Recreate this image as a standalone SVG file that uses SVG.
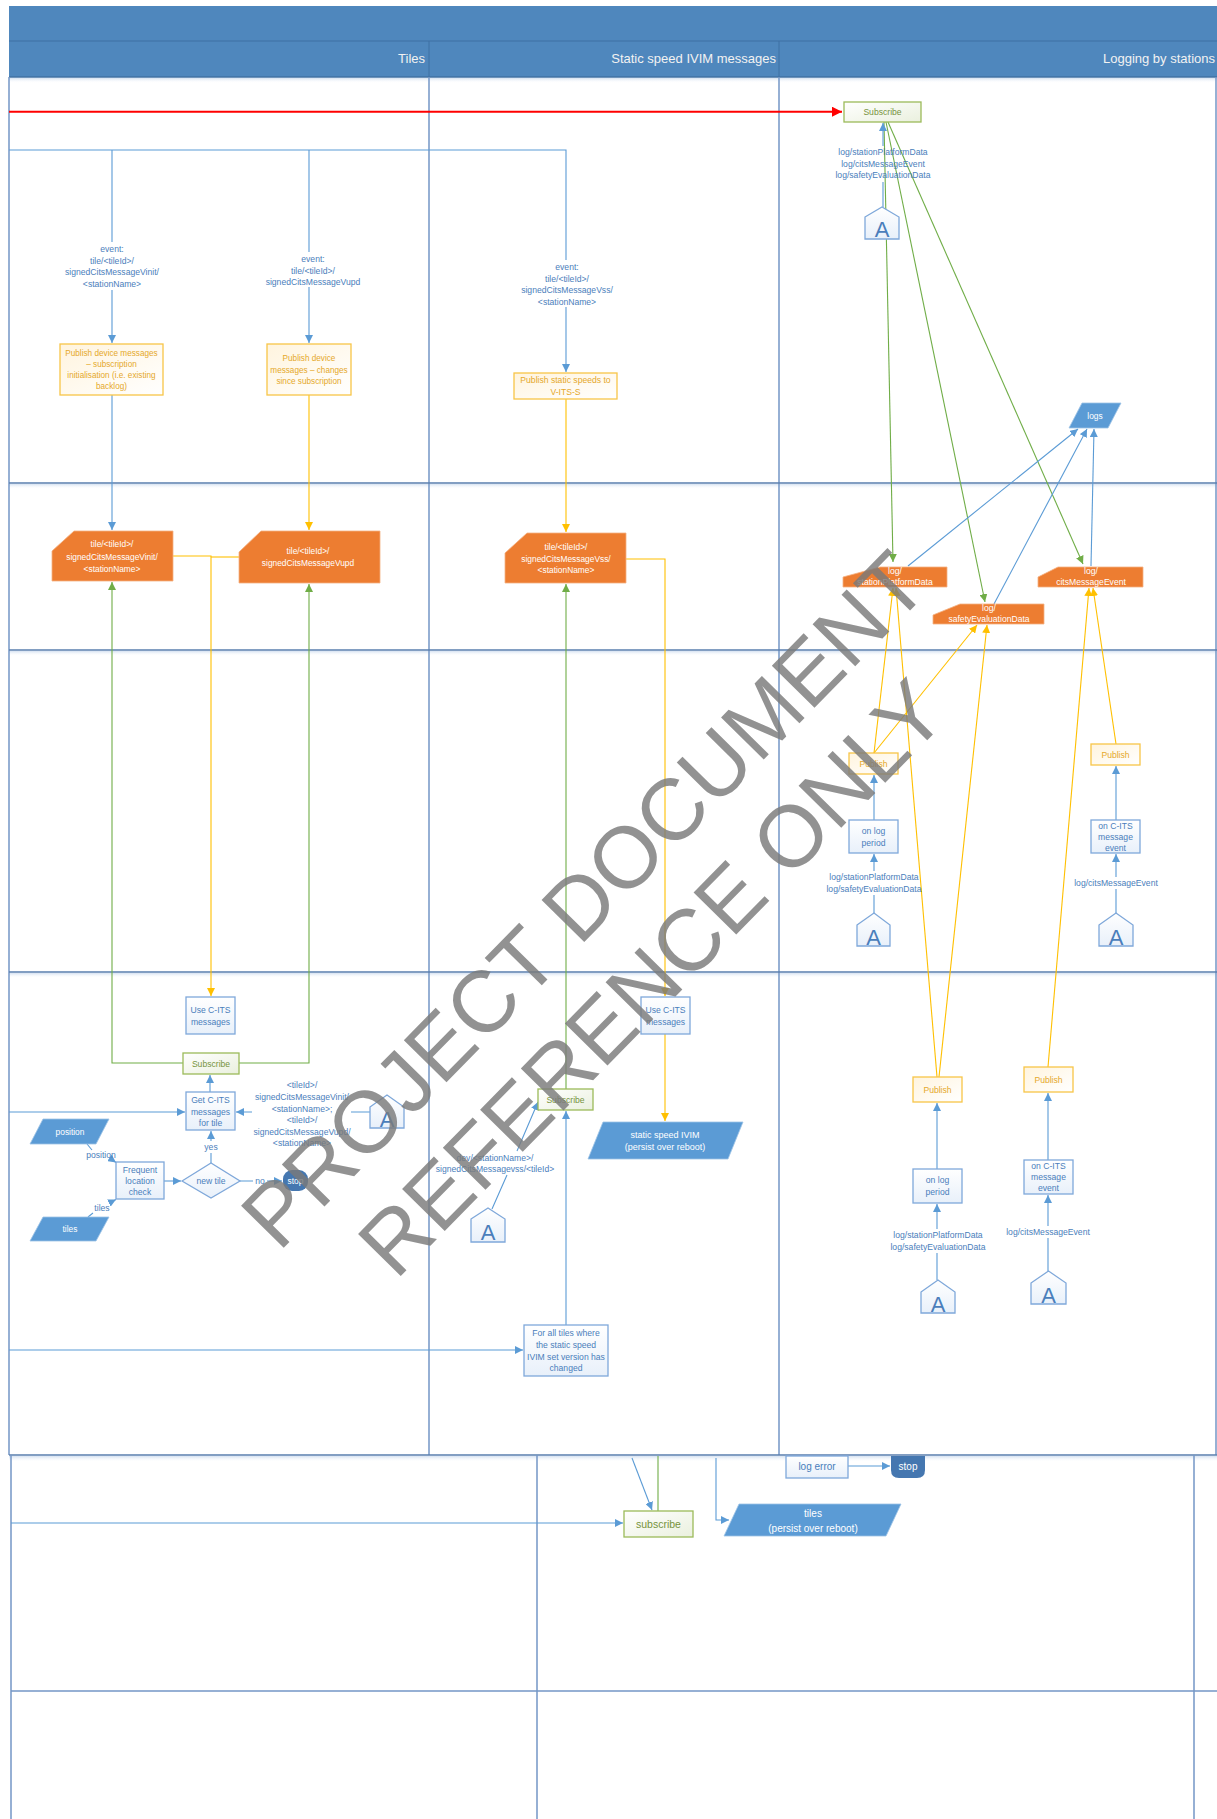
<svg xmlns="http://www.w3.org/2000/svg" width="1217" height="1819" viewBox="0 0 1217 1819">
<defs>
<style>
text{font-family:'Liberation Sans',Arial,sans-serif}
.hdr{fill:#F2F2F2;font-size:13px;text-anchor:end}
.lane{stroke:#7497C6;stroke-width:1.5;fill:none}
.row{stroke:#5A7FAF;stroke-width:1.6;fill:none}
.cb{stroke:#5B9BD5;stroke-width:1.1;fill:none}
.cy{stroke:#FFC000;stroke-width:1.1;fill:none}
.cg{stroke:#70AD47;stroke-width:1.1;fill:none}
.cr{stroke:#FF0000;stroke-width:2;fill:none}
.lbl{fill:#4A7EBB;font-size:8.6px;text-anchor:middle}
.bbox{fill:url(#gb);stroke:#7FA8DA;stroke-width:1.3}
.ybox{fill:url(#gy);stroke:#F7C548;stroke-width:1.3}
.gbox{fill:url(#gg);stroke:#9BBB59;stroke-width:1.3}
.bt{fill:#4A7EBB;font-size:8.6px;text-anchor:middle}
.yt{fill:#E5A82A;font-size:8.6px;text-anchor:middle}
.gt{fill:#76933C;font-size:8.6px;text-anchor:middle}
.org{fill:#ED7D31;stroke:#F4B183;stroke-width:0.8}
.wt{fill:#FFFFFF;font-size:8.4px;text-anchor:middle}
.data{fill:#5B9BD5;stroke:#9DC3E6;stroke-width:0.8}
.stop{fill:#4577B0}
.at{fill:#4A7EBB;font-size:22px;text-anchor:middle}
.wm{fill:#7A7A7A;fill-opacity:0.82;font-size:87px;text-anchor:middle}
</style>
<linearGradient id="gb" x1="0" y1="0" x2="0" y2="1"><stop offset="0" stop-color="#FFFFFF"/><stop offset="1" stop-color="#E8F0FA"/></linearGradient>
<linearGradient id="gy" x1="0" y1="0" x2="1" y2="1"><stop offset="0" stop-color="#FFF4DE"/><stop offset="1" stop-color="#FFFFFF"/></linearGradient>
<linearGradient id="gg" x1="0" y1="0" x2="1" y2="1"><stop offset="0" stop-color="#FFFFFF"/><stop offset="1" stop-color="#EAF0DE"/></linearGradient>
<linearGradient id="sh" x1="0" y1="0" x2="0" y2="1"><stop offset="0" stop-color="#D6E2F1"/><stop offset="1" stop-color="#FFFFFF" stop-opacity="0"/></linearGradient>
<marker id="mb" viewBox="0 0 10 10" refX="10" refY="5" markerWidth="8" markerHeight="8" markerUnits="userSpaceOnUse" orient="auto"><path d="M0,0 L10,5 L0,10 z" fill="#5B9BD5"/></marker>
<marker id="my" viewBox="0 0 10 10" refX="10" refY="5" markerWidth="8" markerHeight="8" markerUnits="userSpaceOnUse" orient="auto"><path d="M0,0 L10,5 L0,10 z" fill="#FFC000"/></marker>
<marker id="mg" viewBox="0 0 10 10" refX="10" refY="5" markerWidth="8" markerHeight="8" markerUnits="userSpaceOnUse" orient="auto"><path d="M0,0 L10,5 L0,10 z" fill="#70AD47"/></marker>
<marker id="mr" viewBox="0 0 10 10" refX="10" refY="5" markerWidth="10" markerHeight="10" markerUnits="userSpaceOnUse" orient="auto"><path d="M0,0 L10,5 L0,10 z" fill="#FF0000"/></marker>
</defs>
<rect x="0" y="0" width="1217" height="1819" fill="#FFFFFF"/>

<g id="swimlanes">
<rect x="9" y="6" width="1208" height="71" fill="#4F87BD"/>
<line x1="9" y1="41" x2="1217" y2="41" stroke="#3F71A3" stroke-width="1.2"/>
<line x1="9" y1="77" x2="1217" y2="77" stroke="#3F71A3" stroke-width="1.5"/>
<line x1="429" y1="41" x2="429" y2="77" stroke="#3F71A3" stroke-width="1"/>
<line x1="779" y1="41" x2="779" y2="77" stroke="#3F71A3" stroke-width="1"/>
<text class="hdr" x="425" y="63">Tiles</text>
<text class="hdr" x="776" y="63">Static speed IVIM messages</text>
<text class="hdr" x="1215" y="63">Logging by stations</text>
<rect x="9" y="78" width="1208" height="5" fill="url(#sh)"/>
<rect x="9" y="484" width="1208" height="5" fill="url(#sh)"/>
<rect x="9" y="651" width="1208" height="5" fill="url(#sh)"/>
<rect x="9" y="973" width="1208" height="5" fill="url(#sh)"/>
<rect x="9" y="1456" width="1208" height="6" fill="url(#sh)"/>
<path class="lane" d="M9,77 V1455 M429,77 V1455 M779,77 V1455 M1216,77 V1455"/>
<path class="row" d="M9,483 H1217 M9,650 H1217 M9,972 H1217 M9,1455 H1217"/>
<path class="lane" d="M11,1455 V1819 M537,1455 V1819 M1194,1455 V1819 M11,1691 H1217" stroke-width="1.2"/>
</g>

<g id="connectors">
<path class="cr" d="M9,111.7 H842" marker-end="url(#mr)"/>
<path class="cb" d="M9,150 H566 V260 M566,307 V372" marker-end="url(#mb)"/>
<path class="cb" d="M112,150 V242 M112,290 V343" marker-end="url(#mb)"/>
<path class="cb" d="M309,150 V252 M309,287 V343" marker-end="url(#mb)"/>
<path class="cb" d="M112,395 V530" marker-end="url(#mb)"/>
<path class="cy" d="M309,395 V530" marker-end="url(#my)"/>
<path class="cy" d="M566,399 V532" marker-end="url(#my)"/>
<path class="cy" d="M173,556 H211 V996" marker-end="url(#my)"/>
<path class="cy" d="M239,557 H211"/>
<path class="cy" d="M626,559 H665 V996" marker-end="url(#my)"/>
<path class="cg" d="M183,1063 H112 V582" marker-end="url(#mg)"/>
<path class="cg" d="M239,1063 H309 V584" marker-end="url(#mg)"/>
<path class="cg" d="M566,1089 V584" marker-end="url(#mg)"/>
<path class="cb" d="M210,1092 V1075" marker-end="url(#mb)"/>
<path class="cb" d="M9,1112 H185" marker-end="url(#mb)"/>
<path class="cb" d="M370,1112 H351 M252,1112 H236" marker-end="url(#mb)"/>
<path class="cb" d="M211,1163 V1153 M211,1141 V1131" marker-end="url(#mb)"/>
<path class="cb" d="M240,1181 H253 M267,1181 H282" marker-end="url(#mb)"/>
<path class="cb" d="M164,1181 H181" marker-end="url(#mb)"/>
<path class="cb" d="M87,1144 L92,1150 M111,1159 L116,1162.5" marker-end="url(#mb)"/>
<path class="cb" d="M88,1217 L93,1213 M109,1203 L116,1199.5" marker-end="url(#mb)"/>
<path class="cy" d="M665,1034 V1121" marker-end="url(#my)"/>
<path class="cb" d="M492,1209 L507,1175 M517,1151 L538,1102" marker-end="url(#mb)"/>
<path class="cb" d="M566,1325 V1111" marker-end="url(#mb)"/>
<path class="cb" d="M9,1350 H523" marker-end="url(#mb)"/>
<path class="cg" d="M884,122 L893,562" marker-end="url(#mg)"/>
<path class="cg" d="M886,122 L985,602" marker-end="url(#mg)"/>
<path class="cg" d="M888,122 L1083,564" marker-end="url(#mg)"/>
<path class="cb" d="M883,207 V182 M883,146 V123" marker-end="url(#mb)"/>
<path class="cb" d="M908,566 L1078,429" marker-end="url(#mb)"/>
<path class="cb" d="M994,604 L1087,429" marker-end="url(#mb)"/>
<path class="cb" d="M1091,566 L1094,429" marker-end="url(#mb)"/>
<path class="cb" d="M874,820 V775" marker-end="url(#mb)"/>
<path class="cb" d="M874,913 V895 M874,871 V854" marker-end="url(#mb)"/>
<path class="cb" d="M1116,820 V766" marker-end="url(#mb)"/>
<path class="cb" d="M1116,913 V889 M1116,877 V854" marker-end="url(#mb)"/>
<path class="cy" d="M874,753 L893,588" marker-end="url(#my)"/>
<path class="cy" d="M874,753 L977,625" marker-end="url(#my)"/>
<path class="cy" d="M1116,744 L1093,588" marker-end="url(#my)"/>
<path class="cy" d="M937,1077 L896,588" marker-end="url(#my)"/>
<path class="cy" d="M939,1077 L987,625" marker-end="url(#my)"/>
<path class="cy" d="M1048,1067 L1089,588" marker-end="url(#my)"/>
<path class="cb" d="M937,1169 V1103" marker-end="url(#mb)"/>
<path class="cb" d="M937,1280 V1253 M937,1229 V1204" marker-end="url(#mb)"/>
<path class="cb" d="M1048,1160 V1093" marker-end="url(#mb)"/>
<path class="cb" d="M1048,1271 V1238 M1048,1226 V1195" marker-end="url(#mb)"/>
<path class="cb" d="M11,1523 H623" marker-end="url(#mb)"/>
<path class="cb" d="M632,1458 L652,1510" marker-end="url(#mb)"/>
<path class="cg" d="M658,1456 V1511"/>
<path class="cb" d="M716,1458 V1520 H729" marker-end="url(#mb)"/>
<path class="cb" d="M848,1466 H890" marker-end="url(#mb)"/>
<text class="lbl" x="112"><tspan x="112" y="252">event:</tspan><tspan x="112" y="263.5">tile/&lt;tileId&gt;/</tspan><tspan x="112" y="275">signedCitsMessageVinit/</tspan><tspan x="112" y="286.5">&lt;stationName&gt;</tspan></text>
<text class="lbl" x="313"><tspan x="313" y="262">event:</tspan><tspan x="313" y="273.5">tile/&lt;tileId&gt;/</tspan><tspan x="313" y="285">signedCitsMessageVupd</tspan></text>
<text class="lbl" x="567"><tspan x="567" y="270">event:</tspan><tspan x="567" y="281.5">tile/&lt;tileId&gt;/</tspan><tspan x="567" y="293">signedCitsMessageVss/</tspan><tspan x="567" y="304.5">&lt;stationName&gt;</tspan></text>
<text class="lbl" x="302"><tspan x="302" y="1088">&lt;tileId&gt;/</tspan><tspan x="302" y="1100">signedCitsMessageVinit/</tspan><tspan x="302" y="1112">&lt;stationName&gt;;</tspan><tspan x="302" y="1123">&lt;tileId&gt;/</tspan><tspan x="302" y="1135">signedCitsMessageVupd/</tspan><tspan x="302" y="1146">&lt;stationName&gt;</tspan></text>
<text class="lbl" x="211" y="1150">yes</text>
<text class="lbl" x="260" y="1184">no</text>
<text class="lbl" x="101" y="1158">position</text>
<text class="lbl" x="102" y="1211">tiles</text>
<text class="lbl" x="495"><tspan x="495" y="1161">dev/&lt;stationName&gt;/</tspan><tspan x="495" y="1172">signedCitsMessagevss/&lt;tileId&gt;</tspan></text>
<text class="lbl" x="883"><tspan x="883" y="155">log/stationPlatformData</tspan><tspan x="883" y="167">log/citsMessageEvent</tspan><tspan x="883" y="178">log/safetyEvaluationData</tspan></text>
<text class="lbl" x="874"><tspan x="874" y="880">log/stationPlatformData</tspan><tspan x="874" y="892">log/safetyEvaluationData</tspan></text>
<text class="lbl" x="1116" y="886">log/citsMessageEvent</text>
<text class="lbl" x="938"><tspan x="938" y="1238">log/stationPlatformData</tspan><tspan x="938" y="1250">log/safetyEvaluationData</tspan></text>
<text class="lbl" x="1048" y="1235">log/citsMessageEvent</text>
</g>

<g id="n-pub-vinit"><rect class="ybox" x="60" y="344" width="103" height="51"/><text class="yt" style="font-size:8.2px"><tspan x="111.5" y="356">Publish device messages</tspan><tspan x="111.5" y="367">– subscription</tspan><tspan x="111.5" y="378">initialisation (i.e. existing</tspan><tspan x="111.5" y="389">backlog)</tspan></text></g>
<g id="n-pub-vupd"><rect class="ybox" x="267" y="344" width="84" height="51"/><text class="yt" style="font-size:8.2px"><tspan x="309" y="361">Publish device</tspan><tspan x="309" y="373">messages – changes</tspan><tspan x="309" y="384">since subscription</tspan></text></g>
<g id="n-pub-vss"><rect class="ybox" x="514" y="373" width="103" height="26"/><text class="yt"><tspan x="565.5" y="383">Publish static speeds to</tspan><tspan x="565.5" y="395">V-ITS-S</tspan></text></g>

<g id="n-tile-vinit"><polygon class="org" points="52,551 74,531 173,531 173,581 52,581"/><text class="wt"><tspan x="112" y="547">tile/&lt;tileId&gt;/</tspan><tspan x="112" y="560">signedCitsMessageVinit/</tspan><tspan x="112" y="572">&lt;stationName&gt;</tspan></text></g>
<g id="n-tile-vupd"><polygon class="org" points="239,552 261,531 380,531 380,583 239,583"/><text class="wt"><tspan x="308" y="554">tile/&lt;tileId&gt;/</tspan><tspan x="308" y="566">signedCitsMessageVupd</tspan></text></g>
<g id="n-tile-vss"><polygon class="org" points="505,553 527,533 626,533 626,583 505,583"/><text class="wt"><tspan x="566" y="550">tile/&lt;tileId&gt;/</tspan><tspan x="566" y="562">signedCitsMessageVss/</tspan><tspan x="566" y="573">&lt;stationName&gt;</tspan></text></g>

<g id="n-use-left"><rect class="bbox" x="186" y="997" width="49" height="37"/><text class="bt"><tspan x="210.5" y="1013">Use C-ITS</tspan><tspan x="210.5" y="1025">messages</tspan></text></g>
<g id="n-sub-left"><rect class="gbox" x="183" y="1053" width="56" height="21"/><text class="gt" x="211" y="1066.5">Subscribe</text></g>
<g id="n-get"><rect class="bbox" x="186" y="1092" width="49" height="38"/><text class="bt"><tspan x="210.5" y="1103">Get C-ITS</tspan><tspan x="210.5" y="1115">messages</tspan><tspan x="210.5" y="1126">for tile</tspan></text></g>
<g id="n-a1"><polygon class="bbox" points="370,1107 387,1095 404,1107 404,1128 370,1128"/><text class="at" x="387" y="1127">A</text></g>
<g id="n-newtile"><polygon class="bbox" points="182,1181 211,1163 240,1181 211,1198" fill="#FFFFFF"/><text class="bt" x="211" y="1184">new tile</text></g>
<g id="n-freq"><rect class="bbox" x="116" y="1162" width="48" height="37"/><text class="bt"><tspan x="140" y="1173">Frequent</tspan><tspan x="140" y="1184">location</tspan><tspan x="140" y="1195">check</tspan></text></g>
<g id="n-stop1"><rect class="stop" x="283" y="1170" width="25" height="21" rx="9"/><text class="wt" x="295.5" y="1184">stop</text></g>
<g id="n-position"><polygon class="data" points="30,1144 43,1119 109,1119 96,1144"/><text class="wt" x="70" y="1134.5">position</text></g>
<g id="n-tiles"><polygon class="data" points="30,1241 43,1217 109,1217 96,1241"/><text class="wt" x="70" y="1232">tiles</text></g>

<g id="n-use-mid"><rect class="bbox" x="641" y="997" width="49" height="37"/><text class="bt"><tspan x="665.5" y="1013">Use C-ITS</tspan><tspan x="665.5" y="1025">messages</tspan></text></g>
<g id="n-sub-mid"><rect class="gbox" x="538" y="1089" width="55" height="21"/><text class="gt" x="565.5" y="1102.5">Subscribe</text></g>
<g id="n-static"><polygon class="data" points="588,1159 603,1122 743,1122 728,1159"/><text class="wt" style="font-size:9px"><tspan x="665" y="1138">static speed IVIM</tspan><tspan x="665" y="1150">(persist over reboot)</tspan></text></g>
<g id="n-a2"><polygon class="bbox" points="471,1219 488,1208 505,1219 505,1242 471,1242"/><text class="at" x="488" y="1240">A</text></g>
<g id="n-forall"><rect class="bbox" x="524" y="1325" width="84" height="51"/><text class="bt"><tspan x="566" y="1336">For all tiles where</tspan><tspan x="566" y="1348">the static speed</tspan><tspan x="566" y="1360">IVIM set version has</tspan><tspan x="566" y="1371">changed</tspan></text></g>

<g id="n-sub-right"><rect class="gbox" x="844" y="102" width="77" height="20"/><text class="gt" x="882.5" y="115">Subscribe</text></g>
<g id="n-a3"><polygon class="bbox" points="865,217 882,207 899,217 899,239 865,239"/><text class="at" x="882" y="237">A</text></g>
<g id="n-logs"><polygon class="data" points="1069,428 1082,403 1121,403 1108,428"/><text class="wt" x="1095" y="418.5">logs</text></g>
<g id="n-log-spd"><polygon class="org" points="843,577 880,567 947,567 947,587 843,587"/><text class="wt" style="font-size:8.6px"><tspan x="895" y="574">log/</tspan><tspan x="895" y="585">stationPlatformData</tspan></text></g>
<g id="n-log-sed"><polygon class="org" points="933,615 960,604 1044,604 1044,624 933,624"/><text class="wt" style="font-size:8.6px"><tspan x="989" y="611">log/</tspan><tspan x="989" y="622">safetyEvaluationData</tspan></text></g>
<g id="n-log-cme"><polygon class="org" points="1038,577 1058,567 1143,567 1143,587 1038,587"/><text class="wt" style="font-size:8.6px"><tspan x="1091" y="574">log/</tspan><tspan x="1091" y="585">citsMessageEvent</tspan></text></g>

<g id="n-pub1"><rect class="ybox" x="849" y="753" width="49" height="21"/><text class="yt" x="873.5" y="767">Publish</text></g>
<g id="n-period1"><rect class="bbox" x="849" y="820" width="49" height="33"/><text class="bt"><tspan x="873.5" y="834">on log</tspan><tspan x="873.5" y="846">period</tspan></text></g>
<g id="n-a4"><polygon class="bbox" points="857,925 874,913 890,925 890,946 857,946"/><text class="at" x="873.5" y="945">A</text></g>
<g id="n-pub2"><rect class="ybox" x="1091" y="744" width="49" height="21"/><text class="yt" x="1115.5" y="758">Publish</text></g>
<g id="n-event1"><rect class="bbox" x="1091" y="820" width="49" height="33"/><text class="bt"><tspan x="1115.5" y="829">on C-ITS</tspan><tspan x="1115.5" y="840">message</tspan><tspan x="1115.5" y="851">event</tspan></text></g>
<g id="n-a5"><polygon class="bbox" points="1099,925 1116,913 1133,925 1133,946 1099,946"/><text class="at" x="1116" y="945">A</text></g>

<g id="n-pub3"><rect class="ybox" x="913" y="1077" width="49" height="25"/><text class="yt" x="937.5" y="1092.5">Publish</text></g>
<g id="n-period2"><rect class="bbox" x="913" y="1169" width="49" height="34"/><text class="bt"><tspan x="937.5" y="1183">on log</tspan><tspan x="937.5" y="1195">period</tspan></text></g>
<g id="n-a6"><polygon class="bbox" points="921,1292 938,1280 955,1292 955,1313 921,1313"/><text class="at" x="938" y="1312">A</text></g>
<g id="n-pub4"><rect class="ybox" x="1024" y="1067" width="49" height="25"/><text class="yt" x="1048.5" y="1082.5">Publish</text></g>
<g id="n-event2"><rect class="bbox" x="1024" y="1160" width="49" height="34"/><text class="bt"><tspan x="1048.5" y="1169">on C-ITS</tspan><tspan x="1048.5" y="1180">message</tspan><tspan x="1048.5" y="1191">event</tspan></text></g>
<g id="n-a7"><polygon class="bbox" points="1031,1283 1048.5,1271 1066,1283 1066,1304 1031,1304"/><text class="at" x="1048.5" y="1303">A</text></g>

<g id="n-logerror"><rect class="bbox" x="786" y="1456" width="62" height="22"/><text class="bt" style="font-size:10px" x="817" y="1470">log error</text></g>
<g id="n-stop2"><path class="stop" d="M891,1456 H925 V1470 Q925,1478 917,1478 H899 Q891,1478 891,1470 Z"/><text class="wt" style="font-size:10px" x="908" y="1470">stop</text></g>
<g id="n-subscribe-b"><rect class="gbox" x="624" y="1511" width="69" height="26"/><text class="gt" style="font-size:10.5px" x="658.5" y="1527.5">subscribe</text></g>
<g id="n-tiles-persist"><polygon class="data" points="724,1536 739,1504 901,1504 886,1536"/><text class="wt" style="font-size:10px"><tspan x="813" y="1517">tiles</tspan><tspan x="813" y="1532">(persist over reboot)</tspan></text></g>

<g id="watermark">
<text class="wm" transform="translate(583,899) rotate(-45.5)" y="31">PROJECT DOCUMENT</text>
<text class="wm" transform="translate(651,977) rotate(-45.5)" y="31">REFERENCE ONLY</text>
</g>
</svg>
